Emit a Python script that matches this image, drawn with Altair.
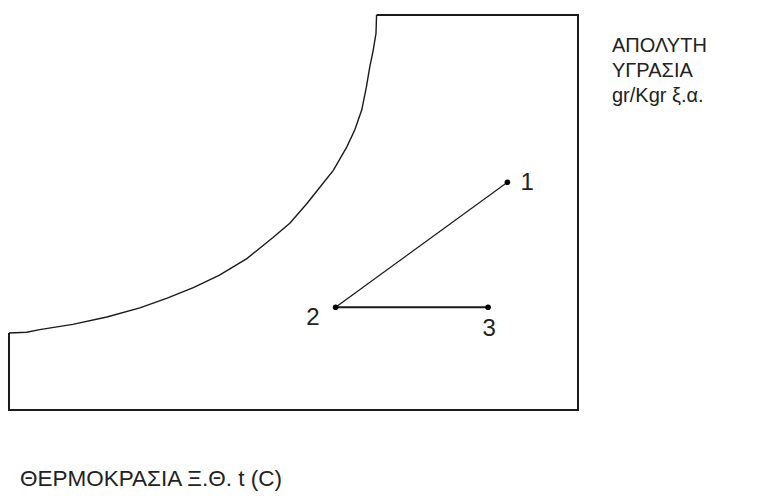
import altair as alt
import pandas as pd

# Sketch of a psychrometric chart: dry-bulb temperature (deg C) against
# absolute humidity (g/kg dry air), with the saturation curve and a
# process 1 -> 2 -> 3.

# Chart outline (temperature, humidity), walked clockwise from the top of the curve
frame_t = [32.3, 50.0, 50.0, 0.0, 0.0]
frame_w = [30.0, 30.0, 0.0, 0.0, 5.85]

# Saturation curve, from the top edge down to the left edge
sat_t = [32.3, 32.25, 32.0, 31.7, 31.4, 31.0, 30.4, 29.7, 28.5, 27.3, 26.2,
         24.7, 23.2, 20.9, 18.5, 16.2, 13.9, 11.5, 8.6, 5.6, 2.7, 1.55, 0.0]
sat_w = [30.0, 28.6, 27.3, 26.05, 24.5, 22.8, 21.3, 20.0, 18.2, 16.9, 15.7,
         14.2, 13.1, 11.5, 10.25, 9.3, 8.5, 7.75, 7.06, 6.5, 6.1, 5.9, 5.85]

# Process states
state_labels = ["1", "2", "3"]
state_t = [43.8, 28.7, 42.1]
state_w = [17.3, 7.8, 7.8]

y_axis_lines = ["ΑΠΟΛΥΤΗ", "ΥΓΡΑΣΙΑ", "gr/Kgr ξ.α."]
x_axis_title = "ΘΕΡΜΟΚΡΑΣΙΑ Ξ.Θ. t (C)"

FONT = "Liberation Sans"
INK = "#1a1a1a"
TEXT_INK = "#222222"

frame = pd.DataFrame({"t": frame_t, "w": frame_w, "i": range(len(frame_t))})
sat = pd.DataFrame({"t": sat_t, "w": sat_w, "i": range(len(sat_t))})
states = pd.DataFrame({"label": state_labels, "t": state_t, "w": state_w})
seg_cool = states[states.label.isin(["1", "2"])].assign(i=[0, 1])
seg_heat = states[states.label.isin(["2", "3"])].assign(i=[0, 1])

xs = alt.Scale(domain=[-0.79, 67.40], nice=False, zero=False)
ys = alt.Scale(domain=[-6.61, 31.14], nice=False, zero=False)
X = alt.X("t:Q", scale=xs, axis=None)
Y = alt.Y("w:Q", scale=ys, axis=None)

frame_line = alt.Chart(frame).mark_line(color=INK, strokeWidth=2).encode(
    x=X, y=Y, order="i:O")
sat_line = alt.Chart(sat).mark_line(color=INK, strokeWidth=1.4).encode(
    x=X, y=Y, order="i:O")
cool = alt.Chart(seg_cool).mark_line(color=INK, strokeWidth=1.2).encode(
    x=X, y=Y, order="i:O")
heat = alt.Chart(seg_heat).mark_line(color=INK, strokeWidth=2).encode(
    x=X, y=Y, order="i:O")
dots = alt.Chart(states).mark_circle(color="black", opacity=1, size=32).encode(x=X, y=Y)


def state_label(name, **kw):
    return alt.Chart(states).transform_filter(
        alt.datum.label == name
    ).mark_text(font=FONT, fontSize=24, color=TEXT_INK, **kw).encode(
        x=X, y=Y, text="label:N")


lab1 = state_label("1", align="left", baseline="alphabetic", dx=13, dy=8)
lab2 = state_label("2", align="right", baseline="alphabetic", dx=-16, dy=18)
lab3 = state_label("3", align="center", baseline="alphabetic", dx=1, dy=29)

y_title = alt.Chart(pd.DataFrame({"k": [0]})).mark_text(
    font=FONT, fontSize=20, color=TEXT_INK, align="left", baseline="alphabetic",
    lineHeight=25
).encode(x=alt.value(612), y=alt.value(52), text=alt.value(y_axis_lines))

x_title = alt.Chart(pd.DataFrame({"k": [0]})).mark_text(
    font=FONT, fontSize=22.5, color=TEXT_INK, align="left", baseline="alphabetic"
).encode(x=alt.value(20), y=alt.value(486), text=alt.value(x_axis_title))

chart = alt.layer(
    frame_line, sat_line, cool, heat, dots, lab1, lab2, lab3, y_title, x_title
).properties(
    width=776, height=497, padding=0, autosize="none", background="white"
).configure_view(stroke=None)

chart.save("out.html", embed_options={"renderer": "svg", "actions": False})
